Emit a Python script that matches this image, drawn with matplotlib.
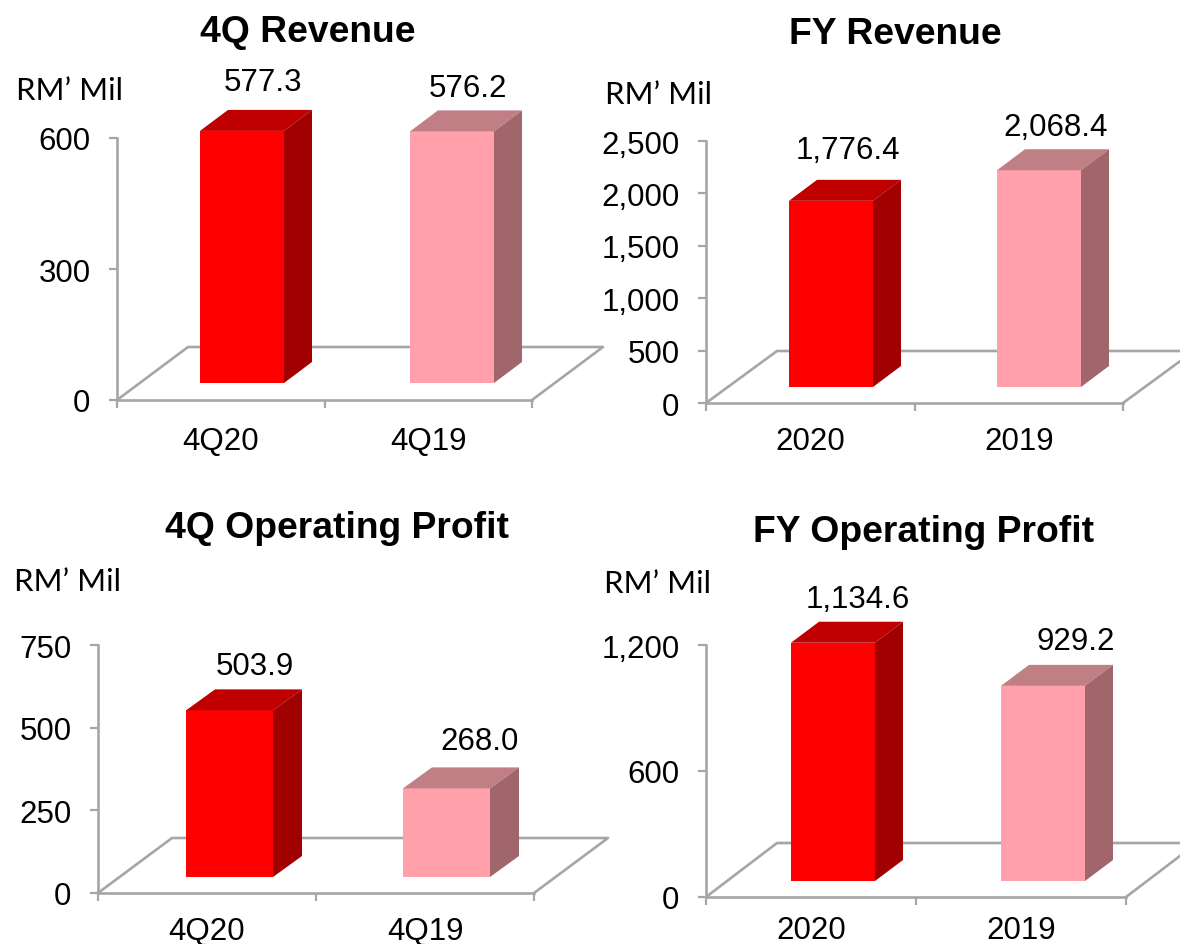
import matplotlib
matplotlib.use('Agg')
import matplotlib.pyplot as plt

W, H = 1180, 945

titles = ['4Q Revenue', 'FY Revenue', '4Q Operating Profit', 'FY Operating Profit']
categories = [['4Q20', '4Q19'], ['2020', '2019'], ['4Q20', '4Q19'], ['2020', '2019']]
values = [[577.3, 576.2], [1776.4, 2068.4], [503.9, 268.0], [1134.6, 929.2]]
value_labels = [['577.3', '576.2'], ['1,776.4', '2,068.4'], ['503.9', '268.0'], ['1,134.6', '929.2']]
y_ticks = [[0, 300, 600], [0, 500, 1000, 1500, 2000, 2500], [0, 250, 500, 750], [0, 600, 1200]]
y_tick_labels = [['0', '300', '600'], ['0', '500', '1,000', '1,500', '2,000', '2,500'],
                 ['0', '250', '500', '750'], ['0', '600', '1,200']]

# layout of each panel, in pixels of the picture
boxes = [(117, 532, 139, 401), (706, 1123, 142, 404), (98, 534, 646, 894), (706, 1126, 646, 898)]
floor_depth = [(71, 53), (71, 52), (74, 55), (71, 54)]
bar_left = [(200, 410), (789, 997), (186, 403), (791, 1001)]
bar_width = [84, 84, 87, 84]
bar_lift = [17, 16, 16, 16]
bar_depth = [(28, 21), (28, 21), (29, 21), (28, 21)]
label_pos = [[(263, 83), (468, 89)], [(848, 151), (1056, 128)],
             [(255, 667), (480, 742)], [(858, 600), (1076, 642)]]
title_pos = [(308, 33), (895, 35), (337, 529), (924, 533)]
unit_pos = [(16, 91), (605, 95), (14, 582), (604, 584)]
cat_y = [442, 442, 932, 931]

front = ['#ff0000', '#ffa0aa']
top = ['#c00000', '#c07f85']
side = ['#a00000', '#a0666b']
grey = '#a6a6a6'

plt.rcParams['font.family'] = ['Liberation Sans', 'DejaVu Sans']
fig = plt.figure(figsize=(W / 100, H / 100), dpi=100)


def put(x, y, s, **kw):
    fig.text(x / W, 1 - y / H, s, **kw)


for i in range(4):
    x0, x1, y_top, y0 = boxes[i]
    ax = fig.add_axes([x0 / W, 1 - y0 / H, (x1 - x0) / W, (y0 - y_top) / H])
    ax.patch.set_visible(False)
    ax.set_xlim(0, 2)
    ax.set_ylim(0, y_ticks[i][-1])
    # pixel to data factors
    sx = 2 / (x1 - x0)
    sy = y_ticks[i][-1] / (y0 - y_top)

    # floor of the 3d box
    fdx, fdy = floor_depth[i]
    ax.plot([0, fdx * sx, 2 + fdx * sx, 2], [0, fdy * sy, fdy * sy, 0],
            color=grey, lw=1.9, clip_on=False, zorder=1)

    base = bar_lift[i] * sy
    bw = bar_width[i] * sx
    dx, dy = bar_depth[i][0] * sx, bar_depth[i][1] * sy
    for j, v in enumerate(values[i]):
        left = (bar_left[i][j] - x0) * sx
        ax.bar(left, v, bw, bottom=base, align='edge', color=front[j], clip_on=False, zorder=3)
        t = base + v
        ax.fill([left, left + dx, left + bw + dx, left + bw], [t, t + dy, t + dy, t],
                color=top[j], lw=0, clip_on=False, zorder=3)
        ax.fill([left + bw, left + bw + dx, left + bw + dx, left + bw],
                [base, base + dy, t + dy, t], color=side[j], lw=0, clip_on=False, zorder=3)
        lx, ly = label_pos[i][j]
        put(lx, ly, value_labels[i][j], fontsize=22.5, ha='center', va='center')
        put((x0 + (x1 - x0) * (0.25 + j * 0.5)), cat_y[i], categories[i][j],
            fontsize=22.5, ha='center', va='center')

    ax.spines[['top', 'right']].set_visible(False)
    ax.spines[['left', 'bottom']].set_color(grey)
    ax.spines[['left', 'bottom']].set_linewidth(1.9)
    ax.set_yticks(y_ticks[i], y_tick_labels[i], fontsize=22.5)
    ax.set_xticks([0, 1, 2], ['', '', ''])
    ax.tick_params(axis='both', color=grey, width=1.6, length=6)
    ax.tick_params(axis='y', pad=13)

    put(title_pos[i][0], title_pos[i][1], titles[i], fontsize=26.8, fontweight='bold',
        ha='center', va='center')
    put(unit_pos[i][0], unit_pos[i][1], 'RM\u2019 Mil', fontsize=22.4, family=['Lato', 'DejaVu Sans'],
        ha='left', va='center')

fig.savefig('out.png', dpi=100)
